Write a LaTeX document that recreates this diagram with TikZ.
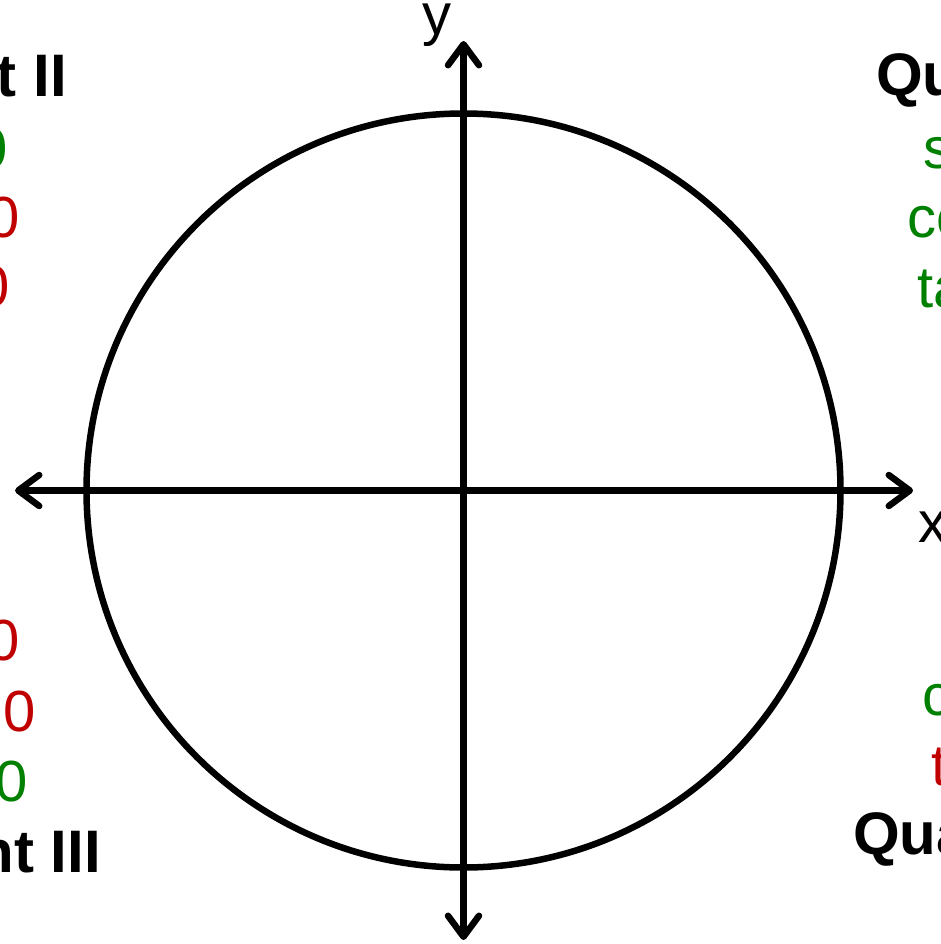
\documentclass[tikz,border=0pt]{standalone}
\usepackage{fontspec}
\setmainfont{Liberation Sans}
\usetikzlibrary{arrows.meta}
\definecolor{posgreen}{HTML}{008000}
\definecolor{negred}{HTML}{C00000}
\begin{document}
\begin{tikzpicture}[x=1pt,y=-1pt,
  barb/.tip={Straight Barb[length=21pt,width=31pt,round]},
  axisline/.style={line width=6.5pt, line cap=round, barb-barb},
  lbl/.style={inner sep=0pt, font=\fontsize{58}{70}\selectfont},
  ttl/.style={inner sep=0pt, font=\fontsize{60}{72}\selectfont\bfseries},
  posg/.style={lbl, text=posgreen},
  negr/.style={lbl, text=negred}]
\useasboundingbox (0,0) rectangle (940,944);
\clip (0,0) rectangle (940,944);
\coordinate (O) at (463.5,490.5);
\draw[line width=6.5pt] (O) circle[radius=377pt];
\coordinate (xl) at (15,490.5);
\coordinate (xr) at (913,490.5);
\coordinate (yt) at (463.5,41);
\coordinate (yb) at (463.5,940);
\draw[axisline] (xl) -- (xr);
\draw[axisline] (yb) -- (yt);
\node[lbl, anchor=base west] (xlab) at (918,542) {x};
\node[lbl, anchor=base west] (ylab) at (422,35) {y};
% Quadrant I
\node[ttl, anchor=base west] (t1) at (876,96) {Quadrant I};
\node[posg, anchor=base east] (s1) at (1145,168) {sin θ > 0};
\node[posg, anchor=base east] (c1) at (1145,237) {cos θ > 0};
\node[posg, anchor=base east] (n1) at (1145,307) {tan θ > 0};
% Quadrant II
\node[ttl, anchor=base east] (t2) at (67,97) {Quadrant II};
\node[posg, anchor=base west] (s2) at (-213,168) {sin θ > 0};
\node[negr, anchor=base west] (c2) at (-217,237) {cos θ < 0};
\node[negr, anchor=base west] (n2) at (-218,306) {tan θ < 0};
% Quadrant III
\node[negr, anchor=base west] (s3) at (-201,660) {sin θ < 0};
\node[negr, anchor=base west] (c3) at (-201,731) {cos θ < 0};
\node[posg, anchor=base west] (n3) at (-200,801) {tan θ > 0};
\node[ttl, anchor=base east] (t3) at (101,872) {Quadrant III};
% Quadrant IV
\node[negr, anchor=base east] (s4) at (1166,645) {sin θ < 0};
\node[posg, anchor=base east] (c4) at (1159.5,715) {cos θ > 0};
\node[negr, anchor=base east] (n4) at (1159.5,785) {tan θ < 0};
\node[ttl, anchor=base west] (t4) at (853,854) {Quadrant IV};
\end{tikzpicture}
\end{document}
